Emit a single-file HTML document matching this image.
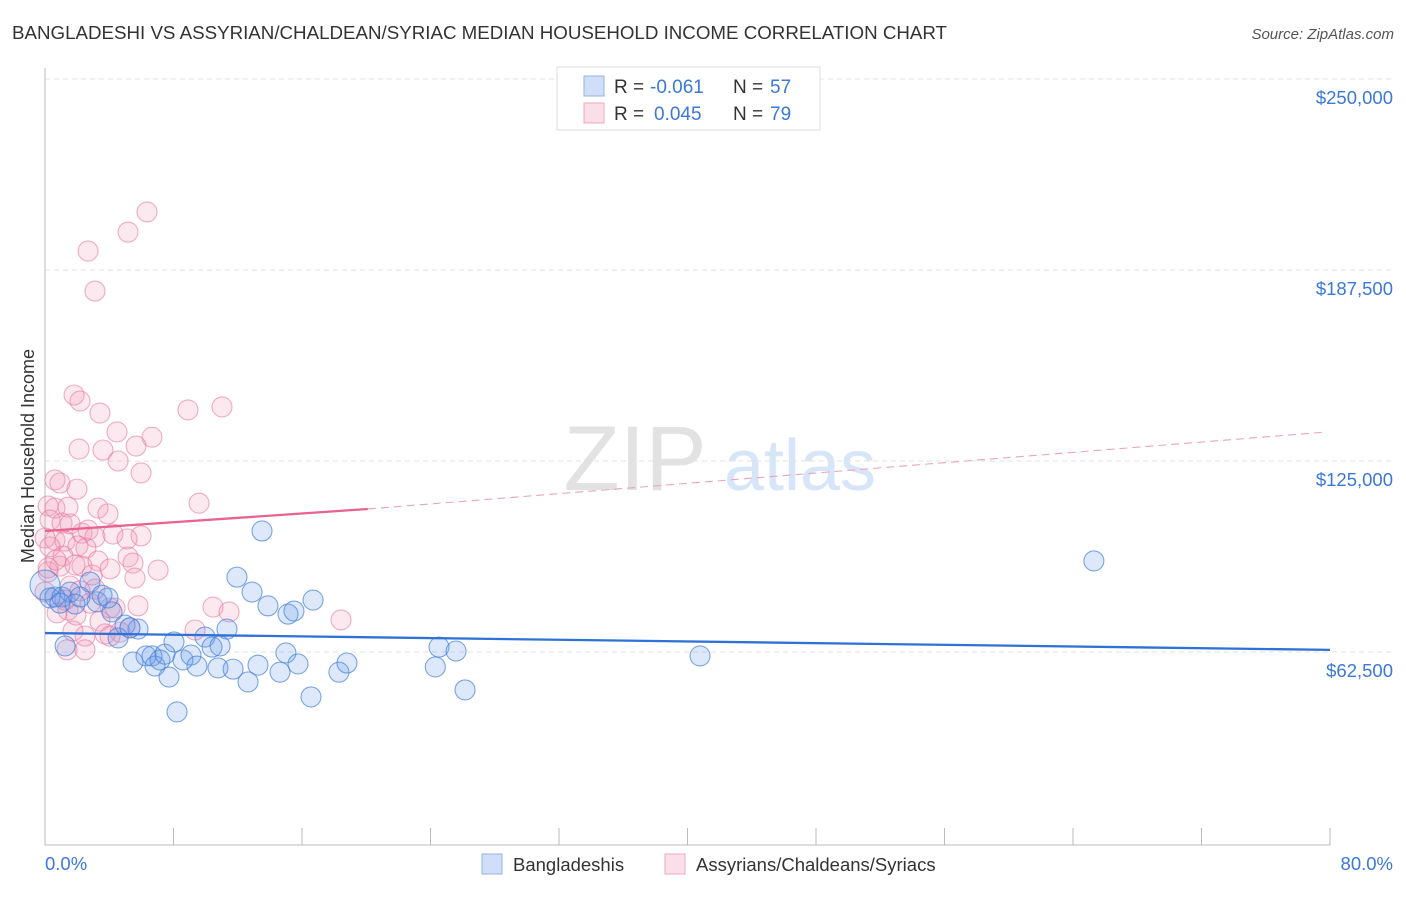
<!DOCTYPE html>
<html><head><meta charset="utf-8"><style>
body{margin:0;background:#fff;font-family:"Liberation Sans",sans-serif;}
svg text{font-family:"Liberation Sans",sans-serif;}
</style></head><body>
<svg id="chart" width="1406" height="892" xmlns="http://www.w3.org/2000/svg">
<text x="12" y="39" font-size="18.3" fill="#333" textLength="935" lengthAdjust="spacingAndGlyphs">BANGLADESHI VS ASSYRIAN/CHALDEAN/SYRIAC MEDIAN HOUSEHOLD INCOME CORRELATION CHART</text>
<text x="1394" y="39" font-size="15" fill="#555" text-anchor="end" font-style="italic">Source: ZipAtlas.com</text>
<g>
<text x="635" y="490" font-size="92" fill="#e2e2e2" text-anchor="middle" font-family="Liberation Serif">ZIP</text>
<text x="800" y="490" font-size="72" fill="#d6e5f7" text-anchor="middle">atlas</text>
</g>
<g id="grid"></g><g id="axes"></g><g id="marks"></g>
<text transform="translate(34,456) rotate(-90)" font-size="18" fill="#333" text-anchor="middle">Median Household Income</text>
<g>
<rect x="557" y="67" width="263" height="63" fill="#fff" stroke="#ddd"/>
<rect x="584" y="76" width="20" height="20" fill="rgba(100,150,230,0.3)" stroke="#8fb3e8"/>
<rect x="584" y="103" width="20" height="20" fill="rgba(240,150,180,0.3)" stroke="#efa7bf"/>
<text x="614" y="93" font-size="19" fill="#333">R =</text>
<text x="650" y="93" font-size="19" fill="#3b78d8">-0.061</text>
<text x="733" y="93" font-size="19" fill="#333">N =</text>
<text x="770" y="93" font-size="19" fill="#3b78d8">57</text>
<text x="614" y="120" font-size="19" fill="#333">R =</text>
<text x="654" y="120" font-size="19" fill="#3b78d8">0.045</text>
<text x="733" y="120" font-size="19" fill="#333">N =</text>
<text x="770" y="120" font-size="19" fill="#3b78d8">79</text>
</g>
<g>
<rect x="482" y="854" width="20" height="20" fill="rgba(100,150,230,0.3)" stroke="#8fb3e8"/>
<text x="513" y="871" font-size="18.5" fill="#333">Bangladeshis</text>
<rect x="665" y="854" width="20" height="20" fill="rgba(240,150,180,0.3)" stroke="#efa7bf"/>
<text x="696" y="871" font-size="18.5" fill="#333">Assyrians/Chaldeans/Syriacs</text>
</g>
</svg>
<script>
const yTicks=[62500,125000,187500,250000];
const yTickLabels=["$62,500","$125,000","$187,500","$250,000"];
const xTicks=[0,8,16,24,32,40,48,56,64,72,80];
const blueX=[0.31,0.62,1.06,1.56,2.8,3.24,3.55,4.17,4.55,4.98,5.48,5.79,6.29,6.66,6.85,7.16,7.47,7.72,8.03,8.22,8.59,9.09,9.46,9.96,10.4,10.77,10.9,11.33,11.71,11.95,12.64,12.89,13.26,13.51,13.88,14.63,15.0,15.13,15.5,15.75,16.56,16.69,18.3,18.8,24.3,24.53,25.59,26.15,40.78,65.3,0,1.87,2.18,1.25,3.92,5.29,0.93];
const blueY=[80.2,80.5,80.5,82.1,85.4,78.9,81.1,75.6,67.1,71.3,59.2,70.0,61.2,61.2,57.9,59.9,61.8,54.3,65.8,42.9,59.9,61.5,57.9,67.4,64.1,57.3,64.5,70.0,56.9,87.0,52.7,82.1,58.2,102.1,77.6,55.9,62.2,74.9,75.9,58.6,47.8,79.5,55.9,58.9,57.6,64.1,62.8,50.1,61.2,92.3,84.4,78.2,80.5,64.5,80.2,70.4,78.5];
const pinkX=[6.35,5.17,2.68,3.11,1.81,2.18,3.42,4.48,6.66,8.9,11.02,2.12,3.61,5.67,4.55,5.98,0.62,0.93,1.99,9.59,0.19,0.62,1.43,3.3,3.92,0.31,1.06,1.56,2.68,2.3,0,0.62,1.25,2.05,3.11,4.23,5.98,5.11,0.31,1.12,2.55,0.93,2.3,3.3,4.05,5.17,5.48,7.04,5.6,0.19,1.56,3.11,1.25,2.18,1.43,2.8,4.05,5.79,0.75,1.93,3.42,4.36,4.67,5.29,1.74,2.49,3.74,10.46,11.46,9.34,18.43,1.37,2.49,4.05,0.19,0.68,0,1.87,2.93];
const pinkY=[206.5,199.9,193.7,180.6,146.6,144.6,140.7,134.5,132.8,141.7,142.7,128.9,128.6,129.9,125.0,121.1,118.8,117.8,115.8,111.2,110.3,109.6,109.9,109.6,107.7,105.7,104.7,104.4,102.4,101.4,99.8,99.1,98.8,97.2,100.1,101.1,100.5,99.5,96.9,93.9,96.5,90.6,90.6,92.3,89.7,93.6,91.6,89.3,86.7,88.7,84.1,83.1,79.5,82.5,76.2,78.5,76.9,77.6,75.3,74.6,72.6,76.9,69.0,70.4,69.4,67.7,68.4,77.2,75.6,69.7,73.0,63.2,63.2,67.7,90.0,92.6,82.1,91.0,87.7];
const blueTrend=[68.7,63.2];
const pinkTrend=[102.1,109.3,134.5];
const pinkSolidEnd=20.1;
const NS="http://www.w3.org/2000/svg";
const sx=p=>45+p/80*1285;
const sy=v=>652-(v-62500)/62500*191;
const syk=k=>sy(k*1000);
function mk(tag,attrs,parent){const e=document.createElementNS(NS,tag);for(const k in attrs)e.setAttribute(k,attrs[k]);document.getElementById(parent).appendChild(e);return e;}
yTicks.forEach((t,i)=>{
 const l=mk('line',{x1:45,x2:1394,y1:sy(t),y2:sy(t),stroke:'#e2e2e2','stroke-dasharray':'5,4'},'grid');
 
 
 const tx=mk('text',{x:1393,y:sy(t)+25,'font-size':18.5,fill:'#3b78d8','text-anchor':'end'},'axes');
 tx.textContent=yTickLabels[i];
 
 
});
const ax=mk('line',{x1:45,x2:1330,y1:845,y2:845,stroke:'#bbb'},'axes');


const ay=mk('line',{x1:45,x2:45,y1:68,y2:845,stroke:'#bbb'},'axes');


xTicks.forEach(t=>{
 const l=mk('line',{x1:sx(t),x2:sx(t),y1:828,y2:845,stroke:'#bbb'},'axes');
 
 
});
const x0=mk('text',{x:45,y:870,'font-size':18.5,fill:'#3b78d8'},'axes');x0.textContent='0.0%';


const x1=mk('text',{x:1393,y:870,'font-size':18.5,fill:'#3b78d8','text-anchor':'end'},'axes');x1.textContent='80.0%';


pinkX.forEach((x,i)=>{
 const c=mk('circle',{cx:sx(x),cy:syk(pinkY[i]),r:10,fill:'rgba(240,150,180,0.22)',stroke:'rgba(230,120,160,0.6)','stroke-width':1.1},'marks');
 
 
});
blueX.forEach((x,i)=>{
 const c=mk('circle',{cx:sx(x),cy:syk(blueY[i]),r:(x===0?15:10),fill:'rgba(100,150,230,0.22)',stroke:'rgba(70,130,220,0.7)','stroke-width':1.1},'marks');
 
 
});
const bt=mk('line',{x1:sx(0),y1:syk(blueTrend[0]),x2:sx(80),y2:syk(blueTrend[1]),stroke:'#2f72d6','stroke-width':2.3},'marks');


const pt=mk('line',{x1:sx(0),y1:syk(pinkTrend[0]),x2:sx(pinkSolidEnd),y2:syk(pinkTrend[1]),stroke:'#e8648f','stroke-width':2.3},'marks');


const pd=mk('line',{x1:sx(pinkSolidEnd),y1:syk(pinkTrend[1]),x2:sx(80)-3,y2:syk(pinkTrend[2]),stroke:'#eaa5bc','stroke-width':1.1,'stroke-dasharray':'8,5'},'marks');


</script>
</body></html>
